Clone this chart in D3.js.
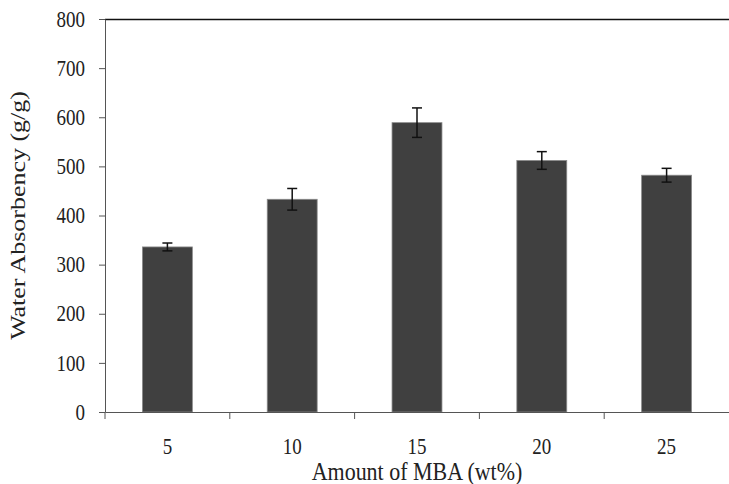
<!DOCTYPE html>
<html>
<head>
<meta charset="utf-8">
<script src="https://cdn.jsdelivr.net/npm/d3@7"></script>
<style>
  body { margin: 0; background: #fff; }
  text { font-family: "Liberation Serif", "Times New Roman", serif; fill: #222; }
</style>
</head>
<body>
<div id="chart"></div>
<script>
// data
var categories = ["5", "10", "15", "20", "25"];
var absorbency = [336, 433, 589, 512, 482];
var errors = [8, 22, 30, 18, 14];
var yTicks = [0, 100, 200, 300, 400, 500, 600, 700, 800];

var margin = { top: 19, right: 0, bottom: 72, left: 105 },
    width = 729 - margin.left - margin.right,
    height = 484 - margin.top - margin.bottom;

// the source figure is a little stretched vertically, so text is too
var stretch = 1.18;

var svg = d3.select("#chart")
    .append("svg")
    .attr("width", width + margin.left + margin.right)
    .attr("height", height + margin.top + margin.bottom)
    .append("g")
    .attr("transform", "translate(" + margin.left + "," + margin.top + ")");

var data = categories.map(function(c, i) {
    return { cat: c, value: absorbency[i], err: errors[i] };
});

var x = d3.scaleBand()
    .domain(categories)
    .range([0, width])
    .paddingInner(0.6)
    .paddingOuter(0.3);

var y = d3.scaleLinear()
    .domain([0, 800])
    .range([height, 0]);

// top border line
svg.append("line")
    .attr("x1", 0).attr("x2", width)
    .attr("y1", 0.5).attr("y2", 0.5)
    .attr("stroke", "#111")
    .attr("stroke-width", 1.5);

// bars
svg.selectAll(".bar")
    .data(data)
    .enter()
    .append("rect")
    .attr("class", "bar")
    .attr("x", function(d) { return x(d.cat); })
    .attr("width", x.bandwidth())
    .attr("y", function(d) { return y(d.value); })
    .attr("height", function(d) { return height - y(d.value); })
    .attr("fill", "#404040")
    .attr("stroke", "#8a8a8a")
    .attr("stroke-width", 0.8);

// error bars
var eb = svg.selectAll(".err")
    .data(data)
    .enter()
    .append("g")
    .attr("class", "err")
    .attr("stroke", "#111")
    .attr("stroke-width", 1.5);

eb.append("line")
    .attr("x1", function(d) { return x(d.cat) + x.bandwidth() / 2; })
    .attr("x2", function(d) { return x(d.cat) + x.bandwidth() / 2; })
    .attr("y1", function(d) { return y(d.value + d.err); })
    .attr("y2", function(d) { return y(d.value - d.err); });

[1, -1].forEach(function(s) {
    eb.append("line")
        .attr("x1", function(d) { return x(d.cat) + x.bandwidth() / 2 - 5; })
        .attr("x2", function(d) { return x(d.cat) + x.bandwidth() / 2 + 5; })
        .attr("y1", function(d) { return y(d.value + s * d.err); })
        .attr("y2", function(d) { return y(d.value + s * d.err); });
});

// y axis
var yAxis = svg.append("g")
    .call(d3.axisLeft(y).tickValues(yTicks).tickSize(6).tickSizeOuter(0).tickPadding(14));
yAxis.selectAll("text")
    .style("font-size", "19px")
    .attr("fill", "#222")
    .attr("transform", "scale(1," + stretch + ")");
yAxis.selectAll("line, path").attr("stroke", "#555");

// x axis, ticks on band boundaries
var xAxis = svg.append("g")
    .attr("transform", "translate(0," + height + ")")
    .call(d3.axisBottom(x).tickSize(0).tickPadding(22));
xAxis.selectAll("text")
    .style("font-size", "19px")
    .attr("fill", "#222")
    .attr("transform", "scale(1," + stretch + ")");
xAxis.select("path").attr("stroke", "#555");

var bounds = categories.map(function(c) { return x(c) - x.step() * x.paddingInner() / 2; });
svg.selectAll(".xtick")
    .data(bounds)
    .enter()
    .append("line")
    .attr("class", "xtick")
    .attr("x1", function(d) { return d; })
    .attr("x2", function(d) { return d; })
    .attr("y1", height)
    .attr("y2", height + 7)
    .attr("stroke", "#555");

// axis titles
svg.append("text")
    .attr("transform", "translate(" + (width / 2) + "," + (height + 68) + ") scale(1," + stretch + ")")
    .attr("text-anchor", "middle")
    .style("font-size", "22px")
    .text("Amount of MBA (wt%)");

svg.append("text")
    .attr("transform", "translate(" + (-80) + "," + (height / 2) + ") rotate(-90) scale(" + stretch + ",1)")
    .attr("text-anchor", "middle")
    .style("font-size", "22px")
    .text("Water Absorbency (g/g)");
</script>
</body>
</html>
